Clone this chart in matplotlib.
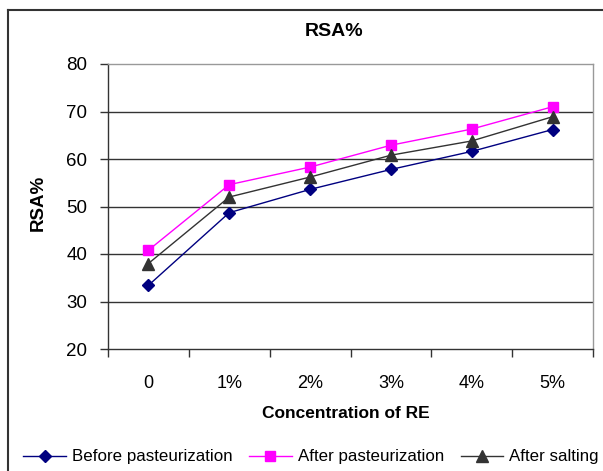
import matplotlib
matplotlib.use("Agg")
import matplotlib.pyplot as plt
from matplotlib.lines import Line2D

# --- DATA ---
concentrations = ["0", "1%", "2%", "3%", "4%", "5%"]
before_past = [33.4, 48.7, 53.6, 57.8, 61.6, 66.2]
after_past = [40.8, 54.6, 58.3, 62.9, 66.3, 71.0]
after_salting = [38.0, 52.0, 56.2, 60.8, 63.8, 68.9]
y_ticks = [20, 30, 40, 50, 60, 70, 80]

plt.rcParams['font.family'] = ['Liberation Sans', 'DejaVu Sans']

fig = plt.figure(figsize=(6.03, 4.71), dpi=100)
ax = fig.add_axes([108 / 603, 1 - 349 / 471, 485 / 603, 285 / 471])

x = list(range(len(concentrations)))

# gridlines (inside the range only)
for v in y_ticks[1:-1]:
    ax.axhline(v, color='#333333', lw=1.0, zorder=1)

ax.plot(x, before_past, color='#000080', lw=1, marker='D', markersize=6.5,
        label='Before pasteurization', zorder=3)
ax.plot(x, after_past, color='#FF00FF', lw=1, marker='s', markersize=7,
        label='After pasteurization', zorder=3)
ax.plot(x, after_salting, color='#333333', lw=1, marker='^', markersize=8,
        label='After salting', zorder=3)

ax.set_xlim(-0.5, len(concentrations) - 0.5)
ax.set_ylim(y_ticks[0], y_ticks[-1])
ax.set_yticks(y_ticks)
ax.set_xticks(x)
ax.set_xticklabels(concentrations)
ax.set_xticks([i - 0.5 for i in range(len(concentrations) + 1)], minor=True)
ax.tick_params(axis='x', which='major', length=0, pad=19, labelsize=13)
ax.tick_params(axis='x', which='minor', length=6, width=1, color='#333333')
ax.tick_params(axis='y', length=6, width=1, color='#333333', pad=9, labelsize=13.5)

for s in ['left', 'bottom']:
    ax.spines[s].set_color('#333333')
    ax.spines[s].set_linewidth(1)
for s in ['right', 'top']:
    ax.spines[s].set_color('#999999')
    ax.spines[s].set_linewidth(1)

fig.text(334 / 603, 1 - 32 / 471, "RSA%", ha='center', va='center',
         fontsize=14, fontweight='bold')
fig.text(38 / 603, 1 - 203 / 471, "RSA%", ha='center', va='center',
         rotation=90, fontsize=13.5, fontweight='bold')
fig.text(346 / 603, 1 - 413 / 471, "Concentration of RE", ha='center',
         va='center', fontsize=12.5, fontweight='bold')

# outer chart frame (left and top edges visible)
fig.add_artist(Line2D([8 / 603, 8 / 603], [0, 1 - 10 / 471],
                      transform=fig.transFigure, color='#333333', lw=1.5))
fig.add_artist(Line2D([8 / 603, 1], [1 - 10 / 471, 1 - 10 / 471],
                      transform=fig.transFigure, color='#333333', lw=1.5))

fig.legend(loc='center', bbox_to_anchor=(311 / 603, 1 - 457 / 471), ncol=3,
           frameon=False, fontsize=12.2, handlelength=2.5,
           handletextpad=0.35, columnspacing=1.0, borderaxespad=0)

fig.savefig("out.png", dpi=100)
